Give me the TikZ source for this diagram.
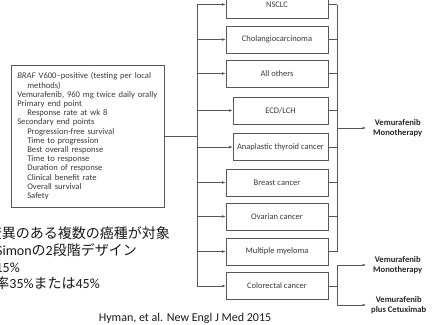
\documentclass[tikz,border=0pt]{standalone}
\usepackage{fontspec}
\setmainfont{Carlito}
\newfontfamily\cjk{Noto Sans CJK JP}
\usetikzlibrary{arrows.meta}
\definecolor{linec}{HTML}{585858}
\definecolor{txtc}{HTML}{3A3A3A}
\begin{document}
\begin{tikzpicture}[x=1pt,y=-1pt,
  cbox/.style={draw=linec, line width=0.6pt, minimum height=27pt, inner sep=0pt, font=\fontsize{8.5}{9}\selectfont, text=txtc},
  wbox/.style={cbox, minimum width=102pt},
  nbox/.style={cbox, minimum width=95pt},
  conn/.style={draw=linec, line width=0.6pt},
  arr/.style={conn, -{Latex[length=3.5pt,width=2.6pt]}},
  lab/.style={font=\fontsize{8.6}{10}\selectfont\bfseries, align=center, text=black!85, anchor=west, inner sep=1pt},
  jp/.style={anchor=east, inner sep=0pt, font=\fontsize{14}{16}\selectfont, text=black!90}]
\useasboundingbox (0,0) rectangle (433,324);
\clip (0,0) rectangle (433,324);

% left description box
\node[draw=linec, line width=0.6pt, anchor=north west, minimum width=153pt, minimum height=142pt,
      text width=141pt, inner xsep=6pt, inner ysep=3pt, align=left,
      font=\fontsize{8.6}{9.2}\selectfont, text=txtc] (lbox) at (11,65) {%
\textit{BRAF} V600--positive (testing per local\\
\hspace*{10pt}methods)\\
Vemurafenib, 960 mg twice daily orally\\
Primary end point\\
\hspace*{10pt}Response rate at wk 8\\
Secondary end points\\
\hspace*{10pt}Progression-free survival\\
\hspace*{10pt}Time to progression\\
\hspace*{10pt}Best overall response\\
\hspace*{10pt}Time to response\\
\hspace*{10pt}Duration of response\\
\hspace*{10pt}Clinical benefit rate\\
\hspace*{10pt}Overall survival\\
\hspace*{10pt}Safety};

% cohort boxes
\node[wbox] (nsclc) at (277,4.5) {NSCLC};
\node[wbox] (chol) at (277,39.5) {Cholangiocarcinoma};
\node[wbox] (allo) at (277,73.5) {All others};
\node[nbox] (ecd) at (280.5,110.5) {ECD/LCH};
\node[nbox] (ana) at (280.5,147) {Anaplastic thyroid cancer};
\node[wbox] (brc) at (277,182.5) {Breast cancer};
\node[wbox] (ovc) at (277,216.5) {Ovarian cancer};
\node[wbox] (mm) at (277,251.5) {Multiple myeloma};
\node[wbox] (crc) at (277,286) {Colorectal cancer};

\coordinate (sL) at (197,0);
\coordinate (sR) at (337,0);

% left spine and arrows
\draw[conn] (lbox.east) -- (sL |- lbox.east);
\draw[conn] (sL |- nsclc.west) -- (sL |- crc.west);
\foreach \n in {nsclc,chol,allo,ecd,ana,brc,ovc,mm,crc}
  \draw[arr] (sL |- \n.west) -- (\n.west);

% right spine (monotherapy)
\foreach \n in {nsclc,chol,allo,ecd,ana,brc,ovc,mm}
  \draw[conn] (\n.east) -- (sR |- \n.east);
\draw[conn] (sR |- nsclc.east) -- (sR |- mm.east);
\coordinate (m1) at (337,128);
\coordinate (e1) at (366,128);
\draw[arr] (m1) -- (e1);
\node[lab] (l1) at (372,128) {Vemurafenib\\Monotherapy};

% colorectal branches
\coordinate (b1) at (337,265);
\coordinate (b2) at (337,305);
\coordinate (e2) at (366,265);
\coordinate (e3) at (366,305);
\draw[conn] (crc.east) -- (sR |- crc.east);
\draw[conn] (b1) -- (b2);
\draw[arr] (b1) -- (e2);
\draw[arr] (b2) -- (e3);
\node[lab] (l2) at (372,265) {Vemurafenib\\Monotherapy};
\node[lab] (l3) at (370,305) {Vemurafenib\\plus Cetuximab};

% Japanese notes
\node[jp] (j1) at (170,233) {\cjk 変異のある複数の癌種が対象};
\node[jp] (j2) at (137,250) {Simon{\cjk の}2{\cjk 段階デザイン}};
\node[jp] (j3) at (20,268) {15\%};
\node[jp] (j4) at (100,283) {{\cjk 率}35\%{\cjk または}45\%};

\node[font=\fontsize{12}{14}\selectfont, text=black!90, inner sep=0pt] (cit) at (185,318) {Hyman, et al. New Engl J Med 2015};
\end{tikzpicture}
\end{document}
